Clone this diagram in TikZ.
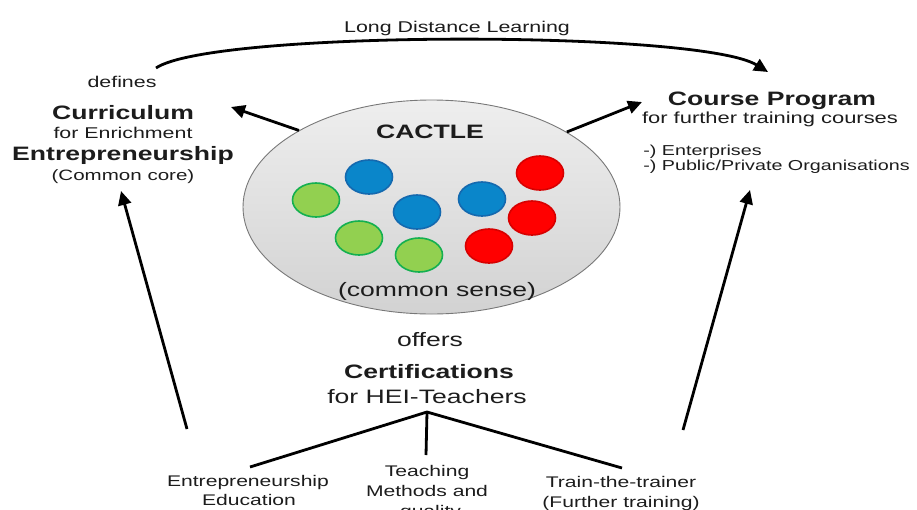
\documentclass[tikz,border=0pt]{standalone}
\usepackage{fontspec}
\setmainfont{Liberation Sans}
\usetikzlibrary{arrows.meta,shapes.geometric}
\definecolor{txt}{RGB}{28,28,28}
\definecolor{bluef}{RGB}{10,134,202}
\definecolor{blued}{RGB}{20,105,175}
\definecolor{greenf}{RGB}{146,208,80}
\definecolor{greend}{RGB}{20,176,80}
\definecolor{redf}{RGB}{255,0,0}
\definecolor{redd}{RGB}{215,0,0}
\definecolor{elltop}{RGB}{238,238,238}
\definecolor{ellbot}{RGB}{210,210,210}
\definecolor{elldraw}{RGB}{120,120,120}
\tikzset{
  lbl/.style={inner sep=0pt, text depth=0pt, xscale=1.37, text=txt},
  big/.style={lbl, font=\fontsize{19.4}{23}\selectfont, text height=13.9pt},
  bigb/.style={big, font=\fontsize{19.4}{23}\selectfont\bfseries},
  small/.style={lbl, font=\fontsize{15.6}{19}\selectfont, text height=11.2pt},
  smaller/.style={lbl, font=\fontsize{14.4}{17}\selectfont, text height=10.3pt},
  bot/.style={lbl, font=\fontsize{15.4}{19}\selectfont, text height=11pt},
  dot/.style={ellipse, minimum width=47pt, minimum height=34pt, inner sep=0pt, line width=1.6pt},
  bluedot/.style={dot, fill=bluef, draw=blued},
  greendot/.style={dot, fill=greenf, draw=greend},
  reddot/.style={dot, fill=redf, draw=redd},
  arr/.style={line width=2.8pt, draw=black, -{Triangle[length=14pt,width=13pt]}},
  branch/.style={line width=2.8pt, draw=black},
}
\begin{document}
\begin{tikzpicture}[x=1pt,y=-1pt]
\useasboundingbox (0,0) rectangle (917,509);

% central ellipse
\node[ellipse, minimum width=377pt, minimum height=214pt, inner sep=0pt,
      top color=elltop, bottom color=ellbot, draw=elldraw, line width=0.9pt] (E) at (431.5,207) {};

% coloured dots
\node[bluedot]  (b1) at (369,177) {};
\node[greendot] (g1) at (316,200) {};
\node[bluedot]  (b2) at (417,212) {};
\node[greendot] (g2) at (359,238) {};
\node[greendot] (g3) at (419,255) {};
\node[bluedot]  (b3) at (482,199) {};
\node[reddot]   (r1) at (540,173) {};
\node[reddot]   (r2) at (532,218) {};
\node[reddot]   (r3) at (489,246) {};

\node[bigb] (cactle) at (430,132) {CACTLE};
\node[big]  (sense)  at (437,290) {(common sense)};

% top label
\node[small] (ldl) at (457,27) {Long Distance Learning};

% left block
\node[small]   (defines) at (122,82)  {defines};
\node[bigb]    (curr)    at (123,113) {Curriculum};
\node[small]   (enrich)  at (123,133) {for Enrichment};
\node[bigb]    (entre)   at (123,154) {Entrepreneurship};
\node[lbl, font=\fontsize{15}{18}\selectfont, text height=10.8pt] (core) at (123,175) {(Common core)};

% right block
\node[bigb]  (course)  at (772,99)  {Course Program};
\node[lbl, font=\fontsize{16}{19}\selectfont, text height=11.5pt] (further) at (770,118) {for further training courses};
\node[smaller, anchor=west] (ent) at (643,150) {-) Enterprises};
\node[smaller, anchor=west] (pub) at (643,165) {-) Public/Private Organisations};

% bottom centre
\node[big]  (offers) at (430,340) {offers};
\node[bigb] (cert)   at (429,372) {Certifications};
\node[big]  (hei)    at (427,397) {for HEI-Teachers};

% bottom leaves
\node[bot] (l1a) at (248,481) {Entrepreneurship};
\node[bot] (l1b) at (249,500) {Education};
\node[bot] (l2a) at (427,471) {Teaching};
\node[bot] (l2b) at (427,491) {Methods and};
\node[bot] (l2c) at (427,511) {-quality};
\node[bot] (l3a) at (621,482) {Train-the-trainer};
\node[bot] (l3b) at (621,502) {(Further training)};

% coordinates
\coordinate (ldlS) at (156,68);
\coordinate (ldlT) at (768,72);
\coordinate (currT) at (231,107);
\coordinate (courseT) at (642,102);
\coordinate (leftS) at (187,429);
\coordinate (leftT) at (121,191);
\coordinate (rightS) at (683,430);
\coordinate (rightT) at (750,190);
\coordinate (apex) at (427,412);
\coordinate (br1) at (250,467);
\coordinate (br2) at (426,455);
\coordinate (br3) at (622,468);

% connectors
\draw[arr] (ldlS) .. controls (212,30) and (700,30) .. (ldlT);
\draw[arr] (E.150) -- (currT);
\draw[arr] (E.29) -- (courseT);
\draw[arr] (leftS) -- (leftT);
\draw[arr] (rightS) -- (rightT);
\draw[branch] (br1) -- (apex) -- (br3);
\draw[branch] (apex) -- (br2);
\end{tikzpicture}
\end{document}
